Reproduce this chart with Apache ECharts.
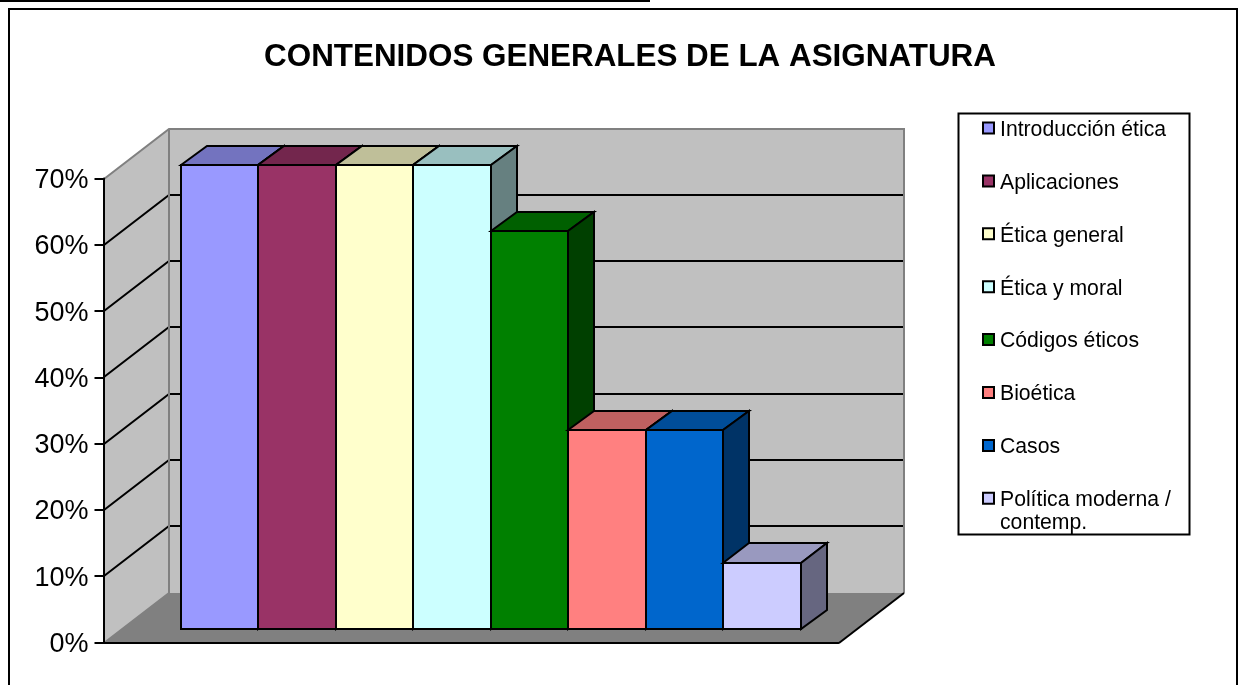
<!DOCTYPE html>
<html><head><meta charset="utf-8">
<style>html,body{margin:0;padding:0;background:#fff}#c{width:1238px;height:685px}</style>
<script src="https://cdn.jsdelivr.net/npm/echarts@6/dist/echarts.min.js"></script>
</head><body><div id="c"></div>
<script>
const titleText = 'CONTENIDOS GENERALES DE LA ASIGNATURA';
const seriesNames = ['Introducción ética','Aplicaciones','Ética general','Ética y moral','Códigos éticos','Bioética','Casos','Política moderna / contemp.'];
const seriesValues = [70,70,70,70,60,30,30,10];
const seriesColors = ['#9999FF','#993366','#FFFFCC','#CCFFFF','#008000','#FF8080','#0066CC','#CCCCFF'];
const tickValues = [0,10,20,30,40,50,60,70];
const categories = [''];

const FONT = '"Liberation Sans", Arial, sans-serif';
const WALL_DX = 65, WALL_DY = 50;      // oblique depth of the plot box
const BAR_DX = 26, BAR_DY = 19.5;      // oblique depth of one bar
const BAR_OFF_DX = 19.7, BAR_OFF_DY = 13.5; // bar front face relative to front plane
const BAR_RATIO = 77.5 / 735;          // bar width as a share of the category band

function shade(hex, k){
  const n = parseInt(hex.slice(1),16);
  const c = [(n>>16)&255,(n>>8)&255,n&255].map(v=>Math.round(v*k));
  return 'rgb('+c.join(',')+')';
}
const snap = pts => pts.map(p=>[Math.round(p[0]),Math.round(p[1])]);
function poly(points, fill, stroke, lw){
  return {type:'polygon', shape:{points:snap(points)}, style:{fill, stroke:stroke||null, lineWidth:lw||0, lineJoin:'miter'}};
}
function line(points, stroke, lw){
  return {type:'polyline', shape:{points:snap(points)}, style:{fill:null, stroke, lineWidth:lw}};
}

function renderWall(params, api){
  const v = api.value(0);
  const p = api.coord([0, v]);
  const band = api.size([1,0])[0];
  const xL = p[0]-band/2, xR = p[0]+band/2, y = p[1];
  const kids = [];
  if (params.dataIndex === 0) {
    const top = api.coord([0, tickValues[tickValues.length-1]])[1];
    const bot = y;
    kids.push(poly([[xL,top],[xL+WALL_DX,top-WALL_DY],[xL+WALL_DX,bot-WALL_DY],[xL,bot]],'#C0C0C0'));
    kids.push(poly([[xL+WALL_DX,top-WALL_DY],[xR+WALL_DX,top-WALL_DY],[xR+WALL_DX,bot-WALL_DY],[xL+WALL_DX,bot-WALL_DY]],'#C0C0C0'));
    kids.push(poly([[xL,bot],[xL+WALL_DX,bot-WALL_DY],[xR+WALL_DX,bot-WALL_DY],[xR,bot]],'#808080'));
  }
  if (v > 0 && v < tickValues[tickValues.length-1]) {
    kids.push(line([[xL,y],[xL+WALL_DX,y-WALL_DY],[xR+WALL_DX,y-WALL_DY]],'#000',2));
  }
  if (params.dataIndex === tickValues.length-1) {
    const bot = api.coord([0, 0])[1];
    kids.push(line([[xL,y],[xL+WALL_DX,y-WALL_DY],[xR+WALL_DX,y-WALL_DY],[xR+WALL_DX,bot-WALL_DY]],'#808080',2));
    kids.push(line([[xL+WALL_DX,y-WALL_DY],[xL+WALL_DX,bot-WALL_DY],[xL,bot]],'#808080',2));
    kids.push(line([[xR,bot],[xR+WALL_DX,bot-WALL_DY]],'#000',2));
  }
  return {type:'group', children:kids};
}

function renderBar(idx){
  return function(params, api){
    const top = api.coord([0, api.value(0)]);
    const bot = api.coord([0, 0]);
    const band = api.size([1,0])[0];
    const w = band*BAR_RATIO;
    const x0 = top[0]-w*seriesValues.length/2 + idx*w + BAR_OFF_DX;
    const x1 = x0+w;
    const yT = top[1]-BAR_OFF_DY, yB = bot[1]-BAR_OFF_DY;
    const col = seriesColors[idx];
    return {type:'group', children:[
      poly([[x0,yT],[x0+BAR_DX,yT-BAR_DY],[x1+BAR_DX,yT-BAR_DY],[x1,yT]], shade(col,.75), '#000', 2),
      poly([[x1,yT],[x1+BAR_DX,yT-BAR_DY],[x1+BAR_DX,yB-BAR_DY],[x1,yB]], shade(col,.5), '#000', 2),
      poly([[x0,yT],[x1,yT],[x1,yB],[x0,yB]], col, '#000', 2)
    ]};
  };
}

const series = [{
  type:'custom', name:'walls', renderItem:renderWall, silent:true, z:1,
  data:tickValues.map(v=>[v]), encode:{y:0}
}].concat(seriesNames.map((n,i)=>({
  type:'custom', name:n, renderItem:renderBar(i), z:2+i, silent:true,
  itemStyle:{color:seriesColors[i]},
  data:[[seriesValues[i]]], encode:{y:0}
})));

const chart = echarts.init(document.getElementById('c'), null, {renderer:'canvas'});
chart.setOption({
  animation:false,
  backgroundColor:'#fff',
  title:{text:titleText, left:625, top:37, textAlign:'center',
    textStyle:{fontFamily:FONT, fontWeight:'bold', fontSize:31.4, color:'#000'}},
  grid:{left:103.5, top:178.5, width:735, height:464, containLabel:false},
  xAxis:{type:'category', data:categories, z:20,
    axisLine:{show:true, lineStyle:{color:'#000', width:2}},
    axisTick:{show:false}, axisLabel:{show:false}, splitLine:{show:false}},
  yAxis:{type:'value', min:0, max:70, interval:10, z:20,
    axisLine:{show:true, lineStyle:{color:'#000', width:2}},
    axisTick:{show:true, length:9, lineStyle:{color:'#000', width:2}},
    axisLabel:{formatter:v=>'{a|'+v+'%}', margin:15, fontFamily:FONT, fontSize:27, color:'#000',
      rich:{a:{fontFamily:FONT, fontSize:27, color:'#000', padding:[4,0,0,0]}}},
    splitLine:{show:false}},
  legend:{
    orient:'vertical', left:982, top:119.5, padding:0, icon:'rect',
    itemWidth:11, itemHeight:11, itemGap:31.9, align:'left',
    data:seriesNames,
    itemStyle:{borderColor:'#000', borderWidth:2},
    selectedMode:false,
    formatter:n=>'{a|'+(n.indexOf(' / ')>0 ? n.split(' / ')[0]+' /' : n)+'}',
    textStyle:{fontFamily:FONT, fontSize:21.2, color:'#000',
      rich:{a:{fontFamily:FONT, fontSize:21.2, color:'#000', padding:[4,0,0,1]}}}
  },
  graphic:[
    {type:'line', shape:{x1:0,y1:1,x2:650,y2:1}, style:{stroke:'#000', lineWidth:2}, silent:true},
    {type:'rect', shape:{x:9,y:9,width:1228,height:690}, style:{fill:null, stroke:'#000', lineWidth:2}, silent:true},
    {type:'rect', shape:{x:958.5,y:113.5,width:231,height:421}, style:{fill:null, stroke:'#000', lineWidth:2}, silent:true, z:0},
    {type:'text', left:1000, top:513, style:{text:seriesNames[7].split(' / ')[1], font:'21.2px '+FONT, fill:'#000'}, silent:true}
  ],
  series
});
</script></body></html>
